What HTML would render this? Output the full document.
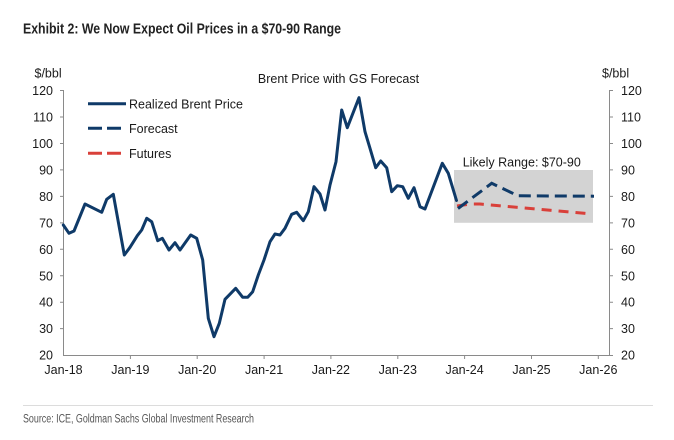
<!DOCTYPE html>
<html><head><meta charset="utf-8"><style>
html,body{margin:0;padding:0;background:#fff;}
svg{display:block;}
text{font-family:"Liberation Sans",Arial,sans-serif;fill:#1a1a1a;}
</style></head><body>
<svg width="674" height="440" viewBox="0 0 674 440" xmlns="http://www.w3.org/2000/svg">
<rect x="0" y="0" width="674" height="440" fill="#fff"/>
<text x="23" y="33.3" font-size="14.5" font-weight="bold" textLength="318" lengthAdjust="spacingAndGlyphs" style="fill:#222">Exhibit 2: We Now Expect Oil Prices in a $70-90 Range</text>

<text x="338.5" y="83" font-size="12.5" text-anchor="middle">Brent Price with GS Forecast</text>
<text x="34.5" y="77.5" font-size="12.5">$/bbl</text>
<text x="602" y="77.5" font-size="12.5">$/bbl</text>

<!-- likely range box -->
<rect x="454" y="170" width="139" height="52.8" fill="#d3d3d3"/>
<text x="462.7" y="166.5" font-size="12.5">Likely Range: $70-90</text>

<!-- axes -->
<g stroke="#8a8a8a" stroke-width="1" fill="none">
<line x1="63.5" y1="90" x2="63.5" y2="355.5"/>
<line x1="609.5" y1="90" x2="609.5" y2="355.5"/>
<line x1="63" y1="355.5" x2="610" y2="355.5"/>
<!-- left ticks -->
<path d="M60 90.5H63.5M60 117H63.5M60 143.5H63.5M60 169.9H63.5M60 196.4H63.5M60 222.9H63.5M60 249.3H63.5M60 275.8H63.5M60 302.2H63.5M60 328.6H63.5"/>
<path d="M609.5 90.5H613M609.5 117H613M609.5 143.5H613M609.5 169.9H613M609.5 196.4H613M609.5 222.9H613M609.5 249.3H613M609.5 275.8H613M609.5 302.2H613M609.5 328.6H613M609.5 355.5H613"/>
<path d="M130.4 355.5V359M197.2 355.5V359M264.1 355.5V359M330.9 355.5V359M397.8 355.5V359M464.6 355.5V359M531.5 355.5V359M598.3 355.5V359"/>
</g>

<g font-size="12.5" text-anchor="end">
<text x="53" y="95">120</text>
<text x="53" y="121.5">110</text>
<text x="53" y="148">100</text>
<text x="53" y="174.4">90</text>
<text x="53" y="200.9">80</text>
<text x="53" y="227.4">70</text>
<text x="53" y="253.8">60</text>
<text x="53" y="280.3">50</text>
<text x="53" y="306.7">40</text>
<text x="53" y="333.1">30</text>
<text x="53" y="359.6">20</text>
</g>
<g font-size="12.5">
<text x="621" y="95">120</text>
<text x="621" y="121.5">110</text>
<text x="621" y="148">100</text>
<text x="621" y="174.4">90</text>
<text x="621" y="200.9">80</text>
<text x="621" y="227.4">70</text>
<text x="621" y="253.8">60</text>
<text x="621" y="280.3">50</text>
<text x="621" y="306.7">40</text>
<text x="621" y="333.1">30</text>
<text x="621" y="359.6">20</text>
</g>
<g font-size="12.5" text-anchor="middle">
<text x="63.5" y="374">Jan-18</text>
<text x="130.4" y="374">Jan-19</text>
<text x="197.2" y="374">Jan-20</text>
<text x="264.1" y="374">Jan-21</text>
<text x="330.9" y="374">Jan-22</text>
<text x="397.8" y="374">Jan-23</text>
<text x="464.6" y="374">Jan-24</text>
<text x="531.5" y="374">Jan-25</text>
<text x="598.3" y="374">Jan-26</text>
</g>

<!-- series -->
<polyline fill="none" stroke="#0f3a68" stroke-width="3" stroke-linejoin="round" stroke-linecap="round"
points="63.3,225 69,233.3 74,231 85,204 101.7,212.3 106.7,199.3 113.3,194.3 124.3,255 130,247.3 137.3,235.7 141.7,230 146.7,218.3 151.7,221.7 157.7,240.7 162.3,238.3 169,250 175,242.7 180,250 190.7,235 196.7,238.3 202.7,260 208.3,318.3 214,336.7 219.3,323.3 225,299.3 235.7,288.3 242.7,297.3 247.7,297.3 252.7,291.7 258.3,275 264,260 270,241.7 275,234 280,235 285,228.3 291.7,214.3 296.7,212.3 303.3,220.7 308.3,211.7 314,186.7 320,194 325,210 330,185 336,161.7 341.7,110 347.3,127.7 359,97.7 365,131.7 370,148.3 375.7,167.7 380.7,161 386.7,167.7 391.7,191.7 397.3,185.7 402.7,186.7 408.3,198.3 414,187.7 420,206.7 425,209 442.3,163.3 448.3,173.3 456.5,200.5"/>
<polyline fill="none" stroke="#d9403a" stroke-width="3" stroke-dasharray="10 7"
points="457,206 470,204 480,204 587,213.5"/>
<polyline fill="none" stroke="#0f3a68" stroke-width="3" stroke-dasharray="12 6"
points="458,208.5 491.7,183.3 518,195.8 594,196.2"/>

<!-- legend -->
<line x1="88" y1="103.7" x2="126" y2="103.7" stroke="#0f3a68" stroke-width="3"/>
<line x1="88" y1="128.3" x2="126" y2="128.3" stroke="#0f3a68" stroke-width="3" stroke-dasharray="14 5"/>
<line x1="88" y1="153.3" x2="126" y2="153.3" stroke="#d9403a" stroke-width="3" stroke-dasharray="14 5"/>
<g font-size="12.5">
<text x="129" y="108.3">Realized Brent Price</text>
<text x="129" y="132.8">Forecast</text>
<text x="129" y="157.8">Futures</text>
</g>

<line x1="23" y1="405.5" x2="653" y2="405.5" stroke="#dcdcdc" stroke-width="1"/>
<text x="23" y="422.5" font-size="11.5" textLength="231" lengthAdjust="spacingAndGlyphs" style="fill:#555">Source: ICE, Goldman Sachs Global Investment Research</text>
</svg>
</body></html>
